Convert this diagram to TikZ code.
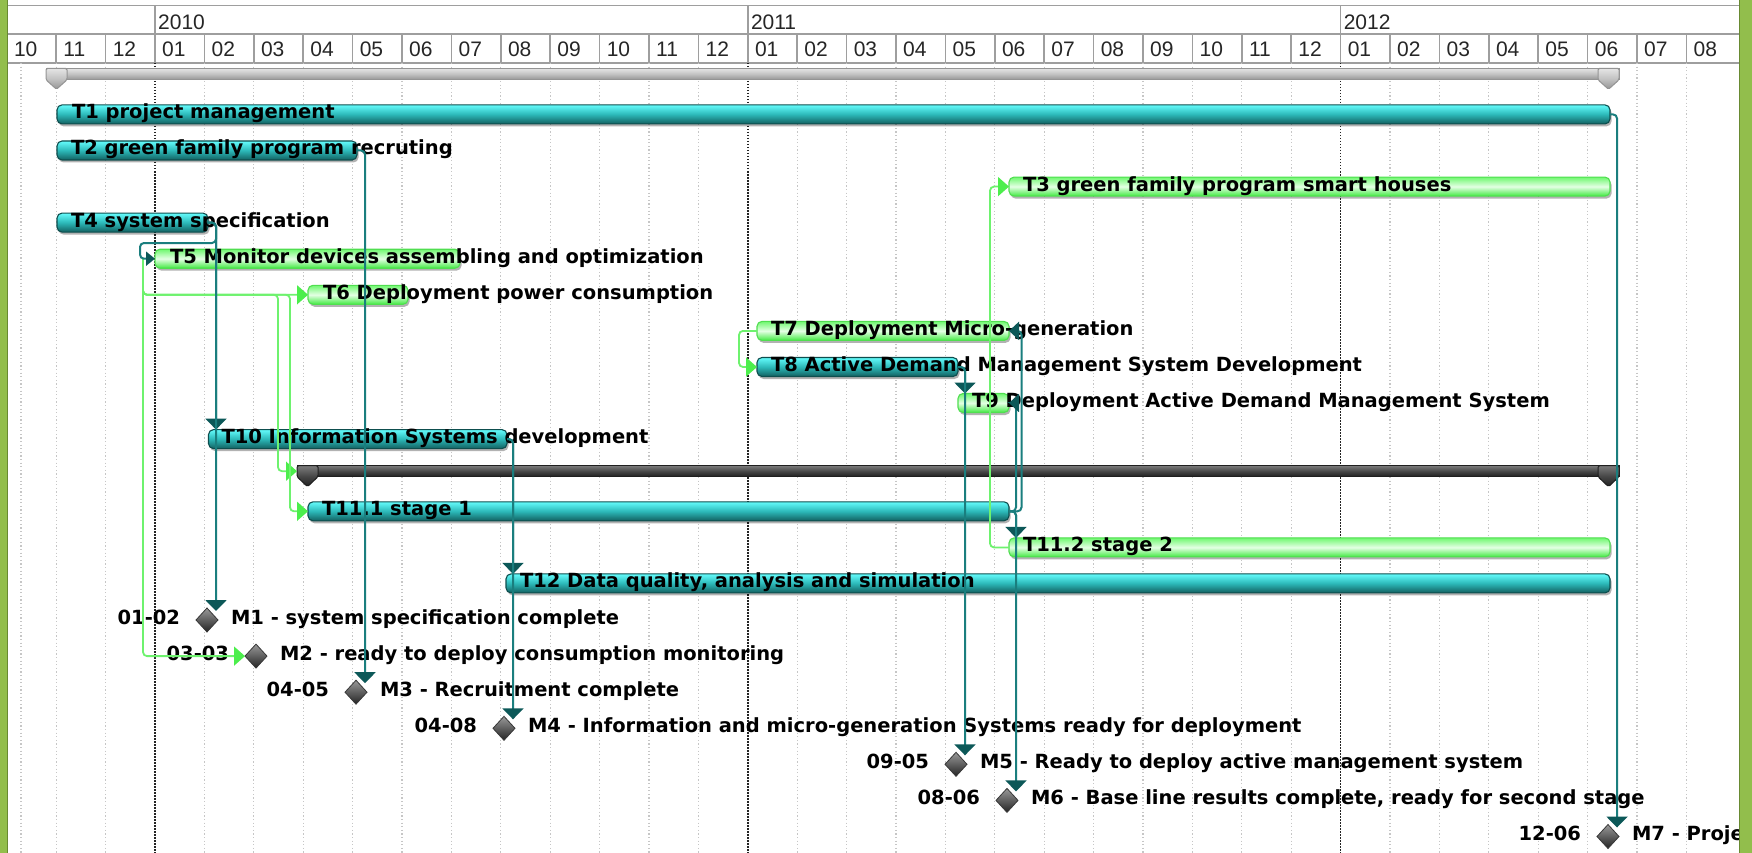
\documentclass[tikz,border=0pt]{standalone}
\usepackage{fontspec}
\setmainfont{DejaVu Sans}
\newfontfamily\headfont{Liberation Sans}
\usetikzlibrary{arrows.meta,shapes.geometric,shadows}

% palette
\definecolor{framegreen}{RGB}{146,190,76}
\definecolor{framedark}{RGB}{104,138,50}
\definecolor{hdrline}{RGB}{158,158,158}
\definecolor{gridgray}{RGB}{198,198,198}
\definecolor{yeargrid}{RGB}{35,35,35}
\definecolor{teallink}{RGB}{26,126,126}
\definecolor{tealtip}{RGB}{12,88,88}
\definecolor{greenlink}{RGB}{110,242,110}
\definecolor{greentip}{RGB}{76,238,76}
\definecolor{tealtop}{RGB}{100,252,252}
\definecolor{tealmid}{RGB}{44,184,184}
\definecolor{tealbot}{RGB}{18,96,96}
\definecolor{tealedge}{RGB}{14,78,78}
\definecolor{greentop}{RGB}{112,248,112}
\definecolor{greenmid}{RGB}{228,255,228}
\definecolor{greenbot}{RGB}{66,234,66}
\definecolor{greenedge}{RGB}{80,222,80}

% a task bar: name, style, x start, x end, top edge
\newcommand\ganttbar[5]{%
  \pgfmathsetmacro\gbwidth{#4-#3}%
  \node[#2, minimum width=\gbwidth pt] (#1) at (#3,#5) {};%
}

\begin{document}
\begin{tikzpicture}[
  x=1pt, y=-1pt,
  barbase/.style={rectangle, rounded corners=5pt, line width=1.1pt, minimum height=19pt,
    inner sep=0pt, outer sep=0pt, anchor=north west,
    drop shadow={shadow xshift=1.5pt, shadow yshift=-2.5pt, opacity=0.3, fill=black}},
  tealbar/.style={barbase, draw=tealedge, top color=tealtop, bottom color=tealbot, middle color=tealmid},
  greenbar/.style={barbase, draw=greenedge, top color=greentop, bottom color=greenbot, middle color=greenmid},
  sumbar/.style={rectangle, inner sep=0pt, outer sep=0pt, anchor=north west, line width=1pt},
  graysum/.style={draw=black!42, line width=1pt, top color=black!10, bottom color=black!42, middle color=black!24},
  darksum/.style={draw=black!88, line width=1pt, top color=black!52, bottom color=black!88, middle color=black!72},
  mstone/.style={diamond, minimum width=22pt, minimum height=24pt, inner sep=0pt, outer sep=0pt,
    draw=black!78, line width=0.8pt, top color=black!40, bottom color=black!86},
  tlabel/.style={anchor=base west, inner sep=0pt, outer sep=0pt, font=\fontsize{19.5}{22}\selectfont\bfseries},
  dlabel/.style={tlabel, anchor=base east},
  hdrtxt/.style={anchor=base west, inner sep=0pt, text=black!85, font=\headfont\fontsize{21}{24}\selectfont},
  hdr/.style={draw=hdrline, line width=1.6pt},
  monthgrid/.style={draw=gridgray, line width=1.2pt, dash pattern=on 1.2pt off 2.4pt},
  yeargridline/.style={draw=yeargrid, line width=1.5pt, dash pattern=on 1.5pt off 1.5pt},
  tlink/.style={draw=teallink, line width=2pt, rounded corners=4pt,
    -{Triangle[width=21pt,length=11pt,fill=tealtip,color=tealtip]}},
  tlinkside/.style={draw=teallink, line width=2pt, rounded corners=4pt,
    -{Triangle[width=18pt,length=10pt,fill=tealtip,color=tealtip]}},
  tlinksmall/.style={draw=teallink, line width=2pt, rounded corners=4pt,
    -{Triangle[width=14pt,length=9pt,fill=tealtip,color=tealtip]}},
  glink/.style={draw=greenlink, line width=1.8pt, rounded corners=4pt,
    -{Triangle[width=19pt,length=11pt,fill=greentip,color=greentip]}},
]
\useasboundingbox (0,0) rectangle (1752,853);
\fill[white] (0,0) rectangle (1752,853);

% ---------- time scale header ----------
\draw[hdr] (8,5.5) -- (1740,5.5);
\draw[hdr] (8,34) -- (1740,34);
\draw[hdr] (8,63) -- (1740,63);
\foreach \xx in {155,747.8,1340.6} \draw[hdr] (\xx,5.5) -- (\xx,34);
\node[hdrtxt] (y2010) at (158,30) {2010};
\node[hdrtxt] (y2011) at (750.8,30) {2011};
\node[hdrtxt] (y2012) at (1343.6,30) {2012};
\foreach \m [count=\c from -3] in {10,11,12,01,02,03,04,05,06,07,08,09,10,11,12,01,02,03,04,05,06,07,08,09,10,11,12,01,02,03,04,05,06,07,08} {
  \pgfmathsetmacro\xs{155+49.4*\c}
  \draw[hdr] (\xs,34) -- (\xs,63);
  \node[hdrtxt] (mon\c) at (\xs+7,57) {\m};
}

% ---------- grid ----------
\draw[monthgrid] (21,63) -- (21,853);
\foreach \c in {-2,-1,1,2,3,4,5,6,7,8,9,10,11,13,14,15,16,17,18,19,20,21,22,23,25,26,27,28,29,30,31}
  \draw[monthgrid] ({155+49.4*\c},63) -- ({155+49.4*\c},853);
\foreach \c in {0,12,24}
  \draw[yeargridline] ({155+49.4*\c},63) -- ({155+49.4*\c},853);

% ---------- summary bars ----------
\node[sumbar, graysum, minimum width=1573pt, minimum height=11.5pt] (s0) at (46,68.3) {};
\path[graysum, rounded corners=1.5pt] (s0.north west) -- ++(21,0) -- ++(0,11.5) -- ++(-10.5,9.5) -- ++(-10.5,-9.5) -- cycle;
\path[graysum, rounded corners=1.5pt] (s0.north east) -- ++(-21,0) -- ++(0,11.5) -- ++(10.5,9.5) -- ++(10.5,-9.5) -- cycle;

\node[sumbar, darksum, minimum width=1322pt, minimum height=11pt] (s11) at (297,465.7) {};
\path[darksum, rounded corners=1.5pt] (s11.north west) -- ++(21,0) -- ++(0,11) -- ++(-10.5,10) -- ++(-10.5,-10) -- cycle;
\path[darksum, rounded corners=1.5pt] (s11.north east) -- ++(-21,0) -- ++(0,11) -- ++(10.5,10) -- ++(10.5,-10) -- cycle;

% ---------- task bars ----------
\ganttbar{t1}{tealbar}{57}{1610}{104.9}
\ganttbar{t2}{tealbar}{57}{357}{141.0}
\ganttbar{t3}{greenbar}{1009}{1610}{177.1}
\ganttbar{t4}{tealbar}{57}{208}{213.1}
\ganttbar{t5}{greenbar}{155}{460}{249.2}
\ganttbar{t6}{greenbar}{308}{408}{285.3}
\ganttbar{t7}{greenbar}{757}{1009}{321.4}
\ganttbar{t8}{tealbar}{757}{958}{357.5}
\ganttbar{t9}{greenbar}{958}{1009}{393.5}
\ganttbar{t10}{tealbar}{208.5}{507}{429.6}
\ganttbar{t111}{tealbar}{308}{1009}{501.8}
\ganttbar{t112}{greenbar}{1009}{1610}{537.9}
\ganttbar{t12}{tealbar}{506}{1610}{573.9}

% ---------- milestones ----------
\node[mstone] (m1) at (207,620.0) {};
\node[mstone] (m2) at (256,656.1) {};
\node[mstone] (m3) at (356,692.2) {};
\node[mstone] (m4) at (504,728.3) {};
\node[mstone] (m5) at (956,764.3) {};
\node[mstone] (m6) at (1007,800.4) {};
\node[mstone] (m7) at (1608,836.5) {};

% ---------- labels ----------
\node[tlabel] (t1txt) at ([xshift=15pt,yshift=-14pt]t1.north west) {T1 project management};
\node[tlabel] (t2txt) at ([xshift=14pt,yshift=-14pt]t2.north west) {T2 green family program recruting};
\node[tlabel] (t3txt) at ([xshift=14pt,yshift=-14pt]t3.north west) {T3 green family program smart houses};
\node[tlabel] (t4txt) at ([xshift=14pt,yshift=-14pt]t4.north west) {T4 system specification};
\node[tlabel] (t5txt) at ([xshift=15pt,yshift=-14pt]t5.north west) {T5 Monitor devices assembling and optimization};
\node[tlabel] (t6txt) at ([xshift=15pt,yshift=-14pt]t6.north west) {T6 Deployment power consumption};
\node[tlabel] (t7txt) at ([xshift=14pt,yshift=-14pt]t7.north west) {T7 Deployment Micro-generation};
\node[tlabel] (t8txt) at ([xshift=14pt,yshift=-14pt]t8.north west) {T8 Active Demand Management System Development};
\node[tlabel] (t9txt) at ([xshift=14pt,yshift=-14pt]t9.north west) {T9 Deployment Active Demand Management System};
\node[tlabel] (t10txt) at ([xshift=13pt,yshift=-14pt]t10.north west) {T10 Information Systems development};
\node[tlabel] (t111txt) at ([xshift=14pt,yshift=-14pt]t111.north west) {T11.1 stage 1};
\node[tlabel] (t112txt) at ([xshift=14pt,yshift=-14pt]t112.north west) {T11.2 stage 2};
\node[tlabel] (t12txt) at ([xshift=14pt,yshift=-14pt]t12.north west) {T12 Data quality, analysis and simulation};

\node[dlabel] (m1d) at ([xshift=-27pt,yshift=-4pt]m1.center) {01-02};
\node[tlabel] (m1t) at ([xshift=24pt,yshift=-4pt]m1.center) {M1 - system specification complete};
\node[dlabel] (m2d) at ([xshift=-27pt,yshift=-4pt]m2.center) {03-03};
\node[tlabel] (m2t) at ([xshift=24pt,yshift=-4pt]m2.center) {M2 - ready to deploy consumption monitoring};
\node[dlabel] (m3d) at ([xshift=-27pt,yshift=-4pt]m3.center) {04-05};
\node[tlabel] (m3t) at ([xshift=24pt,yshift=-4pt]m3.center) {M3 - Recruitment complete};
\node[dlabel] (m4d) at ([xshift=-27pt,yshift=-4pt]m4.center) {04-08};
\node[tlabel] (m4t) at ([xshift=24pt,yshift=-4pt]m4.center) {M4 - Information and micro-generation Systems ready for deployment};
\node[dlabel] (m5d) at ([xshift=-27pt,yshift=-4pt]m5.center) {09-05};
\node[tlabel] (m5t) at ([xshift=24pt,yshift=-4pt]m5.center) {M5 - Ready to deploy active management system};
\node[dlabel] (m6d) at ([xshift=-27pt,yshift=-4pt]m6.center) {08-06};
\node[tlabel] (m6t) at ([xshift=24pt,yshift=-4pt]m6.center) {M6 - Base line results complete, ready for second stage};
\node[dlabel] (m7d) at ([xshift=-27pt,yshift=-4pt]m7.center) {12-06};
\node[tlabel] (m7t) at ([xshift=24pt,yshift=-4pt]m7.center) {M7 - Proje};

% ---------- dependency links ----------
\coordinate (m1in) at ([xshift=9pt,yshift=-3pt]m1.north);
\coordinate (m3in) at ([xshift=9pt,yshift=-3pt]m3.north);
\coordinate (m4in) at ([xshift=9pt,yshift=-3pt]m4.north);
\coordinate (m5in) at ([xshift=9pt,yshift=-3pt]m5.north);
\coordinate (m6in) at ([xshift=9pt,yshift=-3pt]m6.north);
\coordinate (m7in) at ([xshift=9pt,yshift=-3pt]m7.north);
\coordinate (loopturn) at (216,243);
\coordinate (g5) at ([xshift=-12pt]t5.west);
\coordinate (j6a) at ([xshift=-30pt]t6.west);
\coordinate (j6b) at ([xshift=-18pt]t6.west);

% green links (from green tasks)
\draw[glink] (g5) |- (t6.west);
\draw[glink] (g5) |- (j6a) |- (s11.west);
\draw[glink] (g5) |- (j6b) |- (t111.west);
\draw[glink] (g5) |- (m2.west);
\draw[glink] (t7.west) -- ([xshift=-18pt]t7.west) |- (t8.west);
\draw[glink] (t112.west) -- ([xshift=-19pt]t112.west) |- (t3.west);

% teal links (from teal tasks)
\draw[tlink] (t1.east) -| (m7in);
\draw[tlink] (t2.east) -| (m3in);
\draw[tlink] (t4.east) -| ([xshift=7.5pt]t10.north west);
\draw[tlink] (t4.east) -| (m1in);
\draw[tlinksmall] (t4.east) -| (loopturn) -| ([xshift=-15pt]t5.west) -- (t5.west);
\draw[tlink] (t8.east) -| ([xshift=7pt]t9.north west);
\draw[tlink] (t8.east) -| (m5in);
\draw[tlink] (t10.east) -| ([xshift=7pt]t12.north west);
\draw[tlink] (t10.east) -| (m4in);
\draw[tlinkside] (t111.east) -| ([xshift=12.5pt]t7.east) -- (t7.east);
\draw[tlinkside] (t111.east) -| ([xshift=7pt]t9.east) -- (t9.east);
\draw[tlink] (t111.east) -| ([xshift=7pt]t112.north west);
\draw[tlink] (t111.east) -| (m6in);

% ---------- window frame ----------
\fill[framegreen] (0,0) rectangle (7.5,853);
\draw[framedark, line width=1pt] (7.5,0) -- (7.5,853);
\fill[framegreen] (1739.5,0) rectangle (1752,853);
\draw[framedark, line width=1pt] (1739.5,0) -- (1739.5,853);
\end{tikzpicture}
\end{document}
